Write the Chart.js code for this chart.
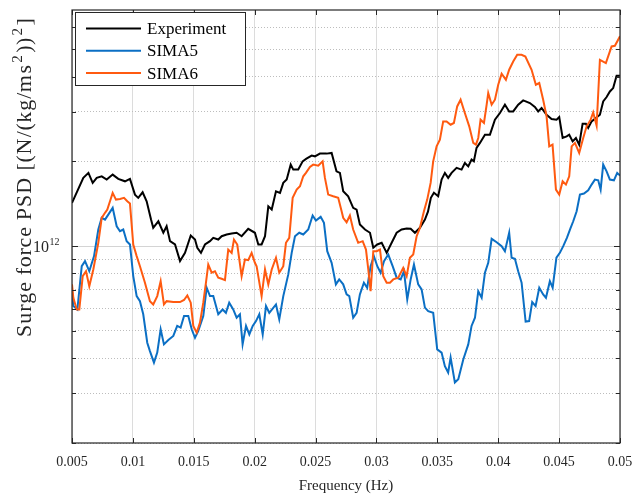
<!DOCTYPE html>
<html>
<head>
<meta charset="utf-8">
<script src="https://cdn.jsdelivr.net/npm/chart.js@4.4.1/dist/chart.umd.min.js"></script>
<style>
  html, body { margin: 0; padding: 0; background: #fff; }
  #wrap { width: 634px; height: 499px; }
</style>
</head>
<body>
<div id="wrap"><canvas id="mycanvas" width="634" height="499"></canvas></div>
<script>
// series (frequency in Hz, PSD in (N/(kg/ms^2))^2)
var seriesNames = ['Experiment', 'SIMA5', 'SIMA6'];
var seriesColors = ['#000000', '#0b6fc4', '#ff5a10'];

var expFreq = [0.005, 0.00593, 0.00635, 0.0067, 0.00703, 0.00744, 0.00785, 0.00834, 0.0088, 0.00935,
  0.00976, 0.01017, 0.01044, 0.0108, 0.01113, 0.01149, 0.01167, 0.01209, 0.0125, 0.01277,
  0.01305, 0.01346, 0.01387, 0.01428, 0.01475, 0.0151, 0.01529, 0.01559, 0.01592, 0.01633,
  0.0166, 0.01701, 0.01729, 0.0177, 0.01811, 0.01852, 0.01893, 0.01947, 0.02002, 0.0203,
  0.02057, 0.02085, 0.02112, 0.0214, 0.02175, 0.02208, 0.02235, 0.02263, 0.02296, 0.02317,
  0.02358, 0.02394, 0.02422, 0.02468, 0.02495, 0.02536, 0.02591, 0.02632, 0.02672, 0.0270,
  0.02727, 0.02768, 0.02809, 0.02837, 0.02864, 0.02906, 0.02947, 0.02974, 0.03007, 0.03043,
  0.03084, 0.03125, 0.03166, 0.03207, 0.03248, 0.03281, 0.03316, 0.03357, 0.03398, 0.03423,
  0.03447, 0.03472, 0.03507, 0.03535, 0.03562, 0.03589, 0.03617, 0.03658, 0.03699, 0.03726,
  0.03754, 0.03781, 0.038, 0.03822, 0.0385, 0.03891, 0.03932, 0.03973, 0.04014, 0.04055,
  0.0409, 0.04123, 0.04164, 0.04205, 0.0426, 0.04301, 0.04328, 0.04356, 0.04397, 0.04438,
  0.04479, 0.04501, 0.04529, 0.04562, 0.04583, 0.04611, 0.04638, 0.04665, 0.04693, 0.0472,
  0.04739, 0.04767, 0.04802, 0.04835, 0.04862, 0.0489, 0.04917, 0.04944, 0.04972, 0.05];
var expPsd = [1.425e12, 1.748e12, 1.821e12, 1.678e12, 1.748e12, 1.771e12, 1.724e12, 1.796e12, 1.734e12, 1.700e12,
  1.734e12, 1.525e12, 1.485e12, 1.554e12, 1.444e12, 1.243e12, 1.162e12, 1.226e12, 1.116e12, 1.177e12,
  1.042e12, 1.014e12, 0.885e12, 0.947e12, 1.091e12, 1.056e12, 0.987e12, 0.947e12, 1.014e12, 1.042e12,
  1.071e12, 1.056e12, 1.085e12, 1.100e12, 1.109e12, 1.116e12, 1.085e12, 1.153e12, 1.116e12, 1.014e12,
  1.014e12, 1.085e12, 1.386e12, 1.349e12, 1.567e12, 1.547e12, 1.678e12, 1.724e12, 1.949e12, 1.871e12,
  1.871e12, 2.002e12, 2.041e12, 2.097e12, 2.085e12, 2.132e12, 2.132e12, 2.144e12, 1.845e12, 1.821e12,
  1.567e12, 1.504e12, 1.368e12, 1.349e12, 1.194e12, 1.146e12, 1.116e12, 0.987e12, 1.014e12, 1.028e12,
  0.947e12, 1.028e12, 1.116e12, 1.146e12, 1.156e12, 1.153e12, 1.116e12, 1.162e12, 1.243e12, 1.327e12,
  1.485e12, 1.547e12, 1.504e12, 1.724e12, 1.821e12, 1.748e12, 1.821e12, 1.897e12, 1.871e12, 1.975e12,
  1.921e12, 2.030e12, 2.002e12, 2.234e12, 2.327e12, 2.489e12, 2.489e12, 2.814e12, 2.972e12, 3.180e12,
  3.010e12, 3.010e12, 3.180e12, 3.294e12, 3.225e12, 3.121e12, 3.010e12, 3.096e12, 2.931e12, 2.830e12,
  2.814e12, 2.876e12, 2.423e12, 2.455e12, 2.489e12, 2.357e12, 2.423e12, 2.294e12, 2.723e12, 2.723e12,
  2.630e12, 2.775e12, 2.853e12, 2.931e12, 3.268e12, 3.387e12, 3.544e12, 3.644e12, 4.030e12, 4.030e12];

var sima5Freq = [0.005, 0.00511, 0.00544, 0.0058, 0.00607, 0.00642, 0.00681, 0.00716, 0.00744, 0.00771,
  0.00798, 0.00834, 0.00867, 0.00894, 0.00921, 0.00949, 0.00976, 0.01003, 0.01031, 0.01058,
  0.01085, 0.01118, 0.0114, 0.01173, 0.012, 0.01228, 0.01255, 0.01291, 0.01332, 0.01364,
  0.01392, 0.0142, 0.01455, 0.01483, 0.0151, 0.01537, 0.01578, 0.01606, 0.01633, 0.0166,
  0.01701, 0.01737, 0.01764, 0.01791, 0.01824, 0.01852, 0.01879, 0.01901, 0.01929, 0.01956,
  0.01984, 0.02011, 0.02038, 0.02066, 0.02093, 0.0212, 0.02175, 0.02202, 0.02235, 0.02276,
  0.02304, 0.02331, 0.02366, 0.02399, 0.0244, 0.02476, 0.02503, 0.02542, 0.02569, 0.02596,
  0.02632, 0.02667, 0.02694, 0.02727, 0.02755, 0.02777, 0.02809, 0.02837, 0.02864, 0.02897,
  0.02924, 0.02952, 0.02979, 0.03007, 0.03034, 0.03062, 0.03097, 0.03133, 0.03166, 0.03199,
  0.03226, 0.03253, 0.03281, 0.03308, 0.03343, 0.03371, 0.03398, 0.03425, 0.03466, 0.03499,
  0.03535, 0.03562, 0.03589, 0.03609, 0.03644, 0.03672, 0.03713, 0.03754, 0.03781, 0.03809,
  0.03836, 0.03864, 0.03891, 0.03918, 0.03946, 0.03987, 0.04028, 0.04055, 0.0409, 0.0411,
  0.04137, 0.04164, 0.04192, 0.04225, 0.04254, 0.04279, 0.04307, 0.04337, 0.04369, 0.04392,
  0.04424, 0.04447, 0.04478, 0.04506, 0.04534, 0.04564, 0.04593, 0.04616, 0.04644, 0.04671,
  0.04704, 0.04739, 0.04767, 0.04794, 0.04821, 0.04841, 0.04862, 0.0489, 0.04917, 0.0495,
  0.04977, 0.05];
var sima5Psd = [0.702e12, 0.613e12, 0.596e12, 0.849e12, 0.885e12, 0.815e12, 0.922e12, 1.146e12, 1.261e12, 1.243e12,
  1.295e12, 1.368e12, 1.177e12, 1.130e12, 1.146e12, 1.042e12, 1.014e12, 0.783e12, 0.665e12, 0.638e12,
  0.573e12, 0.454e12, 0.424e12, 0.386e12, 0.419e12, 0.507e12, 0.448e12, 0.464e12, 0.480e12, 0.521e12,
  0.514e12, 0.565e12, 0.565e12, 0.507e12, 0.473e12, 0.500e12, 0.565e12, 0.712e12, 0.665e12, 0.665e12,
  0.573e12, 0.596e12, 0.580e12, 0.630e12, 0.596e12, 0.557e12, 0.573e12, 0.448e12, 0.521e12, 0.486e12,
  0.521e12, 0.542e12, 0.573e12, 0.486e12, 0.613e12, 0.580e12, 0.621e12, 0.550e12, 0.665e12, 0.794e12,
  0.947e12, 1.085e12, 1.116e12, 1.100e12, 1.146e12, 1.285e12, 1.233e12, 1.271e12, 1.210e12, 0.960e12,
  0.873e12, 0.732e12, 0.762e12, 0.732e12, 0.674e12, 0.665e12, 0.557e12, 0.580e12, 0.674e12, 0.742e12,
  0.712e12, 0.849e12, 0.922e12, 0.849e12, 0.805e12, 0.885e12, 0.934e12, 0.849e12, 0.773e12, 0.762e12,
  0.815e12, 0.647e12, 0.762e12, 0.861e12, 0.732e12, 0.702e12, 0.605e12, 0.588e12, 0.580e12, 0.430e12,
  0.419e12, 0.375e12, 0.356e12, 0.402e12, 0.328e12, 0.337e12, 0.396e12, 0.448e12, 0.521e12, 0.557e12,
  0.692e12, 0.656e12, 0.805e12, 0.873e12, 1.062e12, 1.033e12, 1.000e12, 0.960e12, 1.116e12, 0.910e12,
  0.902e12, 0.815e12, 0.742e12, 0.540e12, 0.542e12, 0.633e12, 0.613e12, 0.712e12, 0.674e12, 0.656e12,
  0.751e12, 0.712e12, 0.910e12, 0.947e12, 1.000e12, 1.071e12, 1.156e12, 1.226e12, 1.331e12, 1.525e12,
  1.538e12, 1.580e12, 1.655e12, 1.724e12, 1.714e12, 1.588e12, 1.949e12, 1.845e12, 1.724e12, 1.714e12,
  1.821e12, 1.781e12];

var sima6Freq = [0.005, 0.00511, 0.00539, 0.0056, 0.00588, 0.00615, 0.00642, 0.00675, 0.00716, 0.00744,
  0.00771, 0.0079, 0.00812, 0.00834, 0.00861, 0.00894, 0.00927, 0.00954, 0.00976, 0.01003,
  0.01031, 0.01058, 0.01099, 0.0114, 0.01167, 0.012, 0.01228, 0.01255, 0.01277, 0.01332,
  0.01387, 0.0142, 0.01447, 0.01475, 0.01496, 0.01524, 0.01551, 0.01578, 0.0160, 0.01619,
  0.01647, 0.01674, 0.01701, 0.01729, 0.01756, 0.01783, 0.01811, 0.0183, 0.01857, 0.01893,
  0.0192, 0.01947, 0.01975, 0.02002, 0.02016, 0.02057, 0.02085, 0.02112, 0.0214, 0.02175,
  0.02202, 0.02235, 0.02257, 0.02284, 0.02312, 0.02345, 0.02372, 0.02399, 0.02421, 0.02454,
  0.02481, 0.02522, 0.02558, 0.02577, 0.02604, 0.02645, 0.02686, 0.02714, 0.02727, 0.02755,
  0.02782, 0.02809, 0.0285, 0.02887, 0.02914, 0.02933, 0.02952, 0.02974, 0.03002, 0.03029,
  0.03056, 0.03084, 0.03111, 0.03138, 0.03179, 0.0322, 0.03248, 0.03275, 0.03302, 0.0333,
  0.03357, 0.0339, 0.03417, 0.03445, 0.03466, 0.03494, 0.03521, 0.03548, 0.03576, 0.03609,
  0.03636, 0.03663, 0.03691, 0.03726, 0.03762, 0.03795, 0.03817, 0.03836, 0.03855, 0.03883,
  0.03905, 0.03918, 0.03946, 0.03973, 0.04, 0.04028, 0.04063, 0.0409, 0.04123, 0.04156,
  0.04192, 0.04223, 0.04274, 0.04309, 0.04337, 0.04369, 0.04397, 0.04419, 0.04446, 0.04474,
  0.04501, 0.04529, 0.04556, 0.04583, 0.04603, 0.0463, 0.04665, 0.04698, 0.04726, 0.04759,
  0.0478, 0.04808, 0.04835, 0.04884, 0.04931, 0.04958, 0.05];
var sima6Psd = [0.732e12, 0.656e12, 0.596e12, 0.596e12, 0.783e12, 0.815e12, 0.721e12, 0.827e12, 1.028e12, 1.261e12,
  1.314e12, 1.349e12, 1.444e12, 1.547e12, 1.464e12, 1.472e12, 1.485e12, 1.444e12, 1.417e12, 1.014e12,
  0.922e12, 0.849e12, 0.742e12, 0.638e12, 0.621e12, 0.665e12, 0.751e12, 0.621e12, 0.638e12, 0.633e12,
  0.633e12, 0.644e12, 0.668e12, 0.630e12, 0.521e12, 0.493e12, 0.535e12, 0.630e12, 0.742e12, 0.861e12,
  0.805e12, 0.815e12, 0.773e12, 0.766e12, 0.758e12, 0.973e12, 0.947e12, 1.056e12, 1.014e12, 0.783e12,
  0.897e12, 0.892e12, 0.947e12, 0.873e12, 0.849e12, 0.665e12, 0.827e12, 0.732e12, 0.827e12, 0.910e12,
  0.805e12, 0.849e12, 1.028e12, 1.071e12, 1.485e12, 1.588e12, 1.632e12, 1.771e12, 1.821e12, 1.912e12,
  1.949e12, 1.932e12, 2.002e12, 1.748e12, 1.525e12, 1.504e12, 1.485e12, 1.331e12, 1.261e12, 1.216e12,
  1.285e12, 1.146e12, 1.028e12, 1.042e12, 0.973e12, 0.827e12, 0.692e12, 0.960e12, 0.960e12, 0.973e12,
  0.783e12, 0.742e12, 0.742e12, 0.762e12, 0.773e12, 0.838e12, 0.783e12, 0.910e12, 0.934e12, 1.085e12,
  1.162e12, 1.331e12, 1.464e12, 1.678e12, 2.002e12, 2.263e12, 2.389e12, 2.775e12, 2.775e12, 2.701e12,
  2.739e12, 3.136e12, 3.313e12, 2.972e12, 2.665e12, 2.327e12, 2.294e12, 2.423e12, 2.814e12, 2.739e12,
  3.180e12, 3.499e12, 3.180e12, 3.313e12, 3.744e12, 4.097e12, 3.900e12, 4.233e12, 4.529e12, 4.784e12,
  4.784e12, 4.718e12, 4.233e12, 3.744e12, 3.797e12, 3.313e12, 2.891e12, 2.263e12, 2.294e12, 1.588e12,
  1.525e12, 1.700e12, 1.655e12, 1.771e12, 2.263e12, 2.327e12, 2.144e12, 2.423e12, 2.665e12, 2.814e12,
  2.987e12, 2.679e12, 4.592e12, 4.471e12, 5.120e12, 5.149e12, 5.565e12];

// axis ticks
var xTickValues = [0.005, 0.01, 0.015, 0.02, 0.025, 0.03, 0.035, 0.04, 0.045, 0.05];
var xTickLabels = ['0.005', '0.01', '0.015', '0.02', '0.025', '0.03', '0.035', '0.04', '0.045', '0.05'];
var yTickValues = [2e11, 3e11, 4e11, 5e11, 6e11, 7e11, 8e11, 9e11, 1e12, 2e12, 3e12, 4e12, 5e12, 6e12];
var yMajor = 1e12;
var yMajorBase = '10', yMajorExp = '12';

var SERIF = '"Liberation Serif", "Times New Roman", serif';
var AXIS_COLOR = '#262626';

function toPoints(xs, ys) {
	var pts = [];
	for (var i = 0; i < xs.length; i++) {
		pts.push({x: xs[i], y: ys[i]});
	}
	return pts;
}

// box, inward ticks, y labels and legend in matlab style
var matlabFrame = {
	id: 'matlabFrame',
	afterDraw: function(chart) {
		var ctx = chart.ctx;
		var a = chart.chartArea;
		var xs = chart.scales.x, ys = chart.scales.y;
		ctx.save();

		ctx.strokeStyle = AXIS_COLOR;
		ctx.lineWidth = 1.2;
		ctx.strokeRect(a.left, a.top, a.right - a.left, a.bottom - a.top);

		ctx.lineWidth = 1;
		ctx.beginPath();
		xTickValues.forEach(function(v) {
			var px = Math.round(xs.getPixelForValue(v)) + 0.5;
			ctx.moveTo(px, a.bottom); ctx.lineTo(px, a.bottom - 5);
			ctx.moveTo(px, a.top); ctx.lineTo(px, a.top + 5);
		});
		yTickValues.forEach(function(v) {
			var py = Math.round(ys.getPixelForValue(v)) + 0.5;
			var len = (v === yMajor) ? 6 : 4;
			ctx.moveTo(a.left, py); ctx.lineTo(a.left + len, py);
			ctx.moveTo(a.right, py); ctx.lineTo(a.right - len, py);
		});
		ctx.stroke();

		// 10^12 tick label
		var yM = ys.getPixelForValue(yMajor);
		ctx.fillStyle = AXIS_COLOR;
		ctx.textBaseline = 'alphabetic';
		ctx.textAlign = 'left';
		ctx.font = '10px ' + SERIF;
		var we = ctx.measureText(yMajorExp).width;
		ctx.font = '16px ' + SERIF;
		var wb = ctx.measureText(yMajorBase).width;
		var lx0 = a.left - 13 - we - wb;
		ctx.fillText(yMajorBase, lx0, yM + 6);
		ctx.font = '10px ' + SERIF;
		ctx.fillText(yMajorExp, lx0 + wb + 0.5, yM - 1);

		// y axis title with superscripts
		var parts = [
			{t: 'Surge force PSD [(N/(kg/ms', sup: false},
			{t: '2', sup: true},
			{t: '))', sup: false},
			{t: '2', sup: true},
			{t: ']', sup: false}
		];
		var big = '22px ' + SERIF, small = '15px ' + SERIF;
		var total = 0;
		parts.forEach(function(p) {
			ctx.font = p.sup ? small : big;
			p.w = ctx.measureText(p.t).width + (p.sup ? 3 : 0);
			total += p.w;
		});
		ctx.translate(31, 337);
		ctx.rotate(-Math.PI / 2);
		var cx = 0;
		var stretch = Math.max(1, 319 / total);
		parts.forEach(function(p) {
			ctx.font = p.sup ? small : big;
			if (p.sup) {
				ctx.fillText(p.t, cx + 1.5, -9);
				cx += p.w * stretch;
			} else {
				for (var k = 0; k < p.t.length; k++) {
					var ch = p.t.charAt(k);
					ctx.fillText(ch, cx, 0);
					cx += ctx.measureText(ch).width * stretch;
				}
			}
		});
		ctx.restore();

		// legend
		ctx.save();
		var lx = 75.5, ly = 12.5, lw = 170, lh = 73;
		ctx.fillStyle = '#ffffff';
		ctx.fillRect(lx, ly, lw, lh);
		ctx.strokeStyle = AXIS_COLOR;
		ctx.lineWidth = 1;
		ctx.strokeRect(lx, ly, lw, lh);
		ctx.font = '17px ' + SERIF;
		ctx.textBaseline = 'middle';
		ctx.textAlign = 'left';
		for (var i = 0; i < seriesNames.length; i++) {
			var rowY = ly + 16 + i * 22.3;
			ctx.strokeStyle = seriesColors[i];
			ctx.lineWidth = 2;
			ctx.beginPath();
			ctx.moveTo(86, rowY);
			ctx.lineTo(141, rowY);
			ctx.stroke();
			ctx.fillStyle = '#000000';
			ctx.fillText(seriesNames[i], 147, rowY + 1);
		}
		ctx.restore();
	}
};

var ctx = document.getElementById('mycanvas');

var chart = new Chart(ctx, {
	type: 'line',
	data: {
		datasets: [
			{label: seriesNames[0], data: toPoints(expFreq, expPsd), borderColor: seriesColors[0], order: 2},
			{label: seriesNames[1], data: toPoints(sima5Freq, sima5Psd), borderColor: seriesColors[1], order: 1},
			{label: seriesNames[2], data: toPoints(sima6Freq, sima6Psd), borderColor: seriesColors[2], order: 0}
		]
	},
	options: {
		responsive: false,
		animation: false,
		devicePixelRatio: 1,
		layout: {padding: {left: 0, top: 10, right: 14, bottom: 0}},
		elements: {
			line: {borderWidth: 2, tension: 0, fill: false},
			point: {radius: 0}
		},
		plugins: {
			legend: {display: false},
			tooltip: {enabled: false}
		},
		scales: {
			x: {
				type: 'linear',
				min: 0.005,
				max: 0.05,
				afterBuildTicks: function(axis) {
					axis.ticks = xTickValues.map(function(v) { return {value: v}; });
				},
				afterFit: function(axis) {
					axis.height = 56;
					axis.paddingLeft = 0;
					axis.paddingRight = 0;
				},
				ticks: {
					autoSkip: false,
					maxRotation: 0,
					padding: 11,
					color: AXIS_COLOR,
					font: {family: SERIF, size: 14},
					callback: function(value, index) { return xTickLabels[index]; }
				},
				grid: {color: '#dcdcdc', lineWidth: 1, drawTicks: false},
				border: {display: false},
				title: {
					display: true,
					text: 'Frequency (Hz)',
					color: AXIS_COLOR,
					font: {family: SERIF, size: 15},
					padding: {top: 2, bottom: 4}
				}
			},
			y: {
				type: 'logarithmic',
				min: 2e11,
				max: 6.9e12,
				afterBuildTicks: function(axis) {
					axis.ticks = yTickValues.map(function(v) { return {value: v, major: v === yMajor}; });
				},
				afterFit: function(axis) {
					axis.width = 72;
					axis.paddingTop = 0;
					axis.paddingBottom = 0;
				},
				ticks: {
					autoSkip: false,
					callback: function() { return ''; }
				},
				grid: {
					color: function(c) { return c.tick && c.tick.value === yMajor ? '#d4d4d4' : '#bdbdbd'; },
					lineWidth: 1,
					drawTicks: false
				},
				border: {
					display: false,
					dash: function(c) { return c.tick && c.tick.value === yMajor ? [] : [1, 2]; }
				}
			}
		}
	},
	plugins: [matlabFrame]
});
</script>
</body>
</html>
